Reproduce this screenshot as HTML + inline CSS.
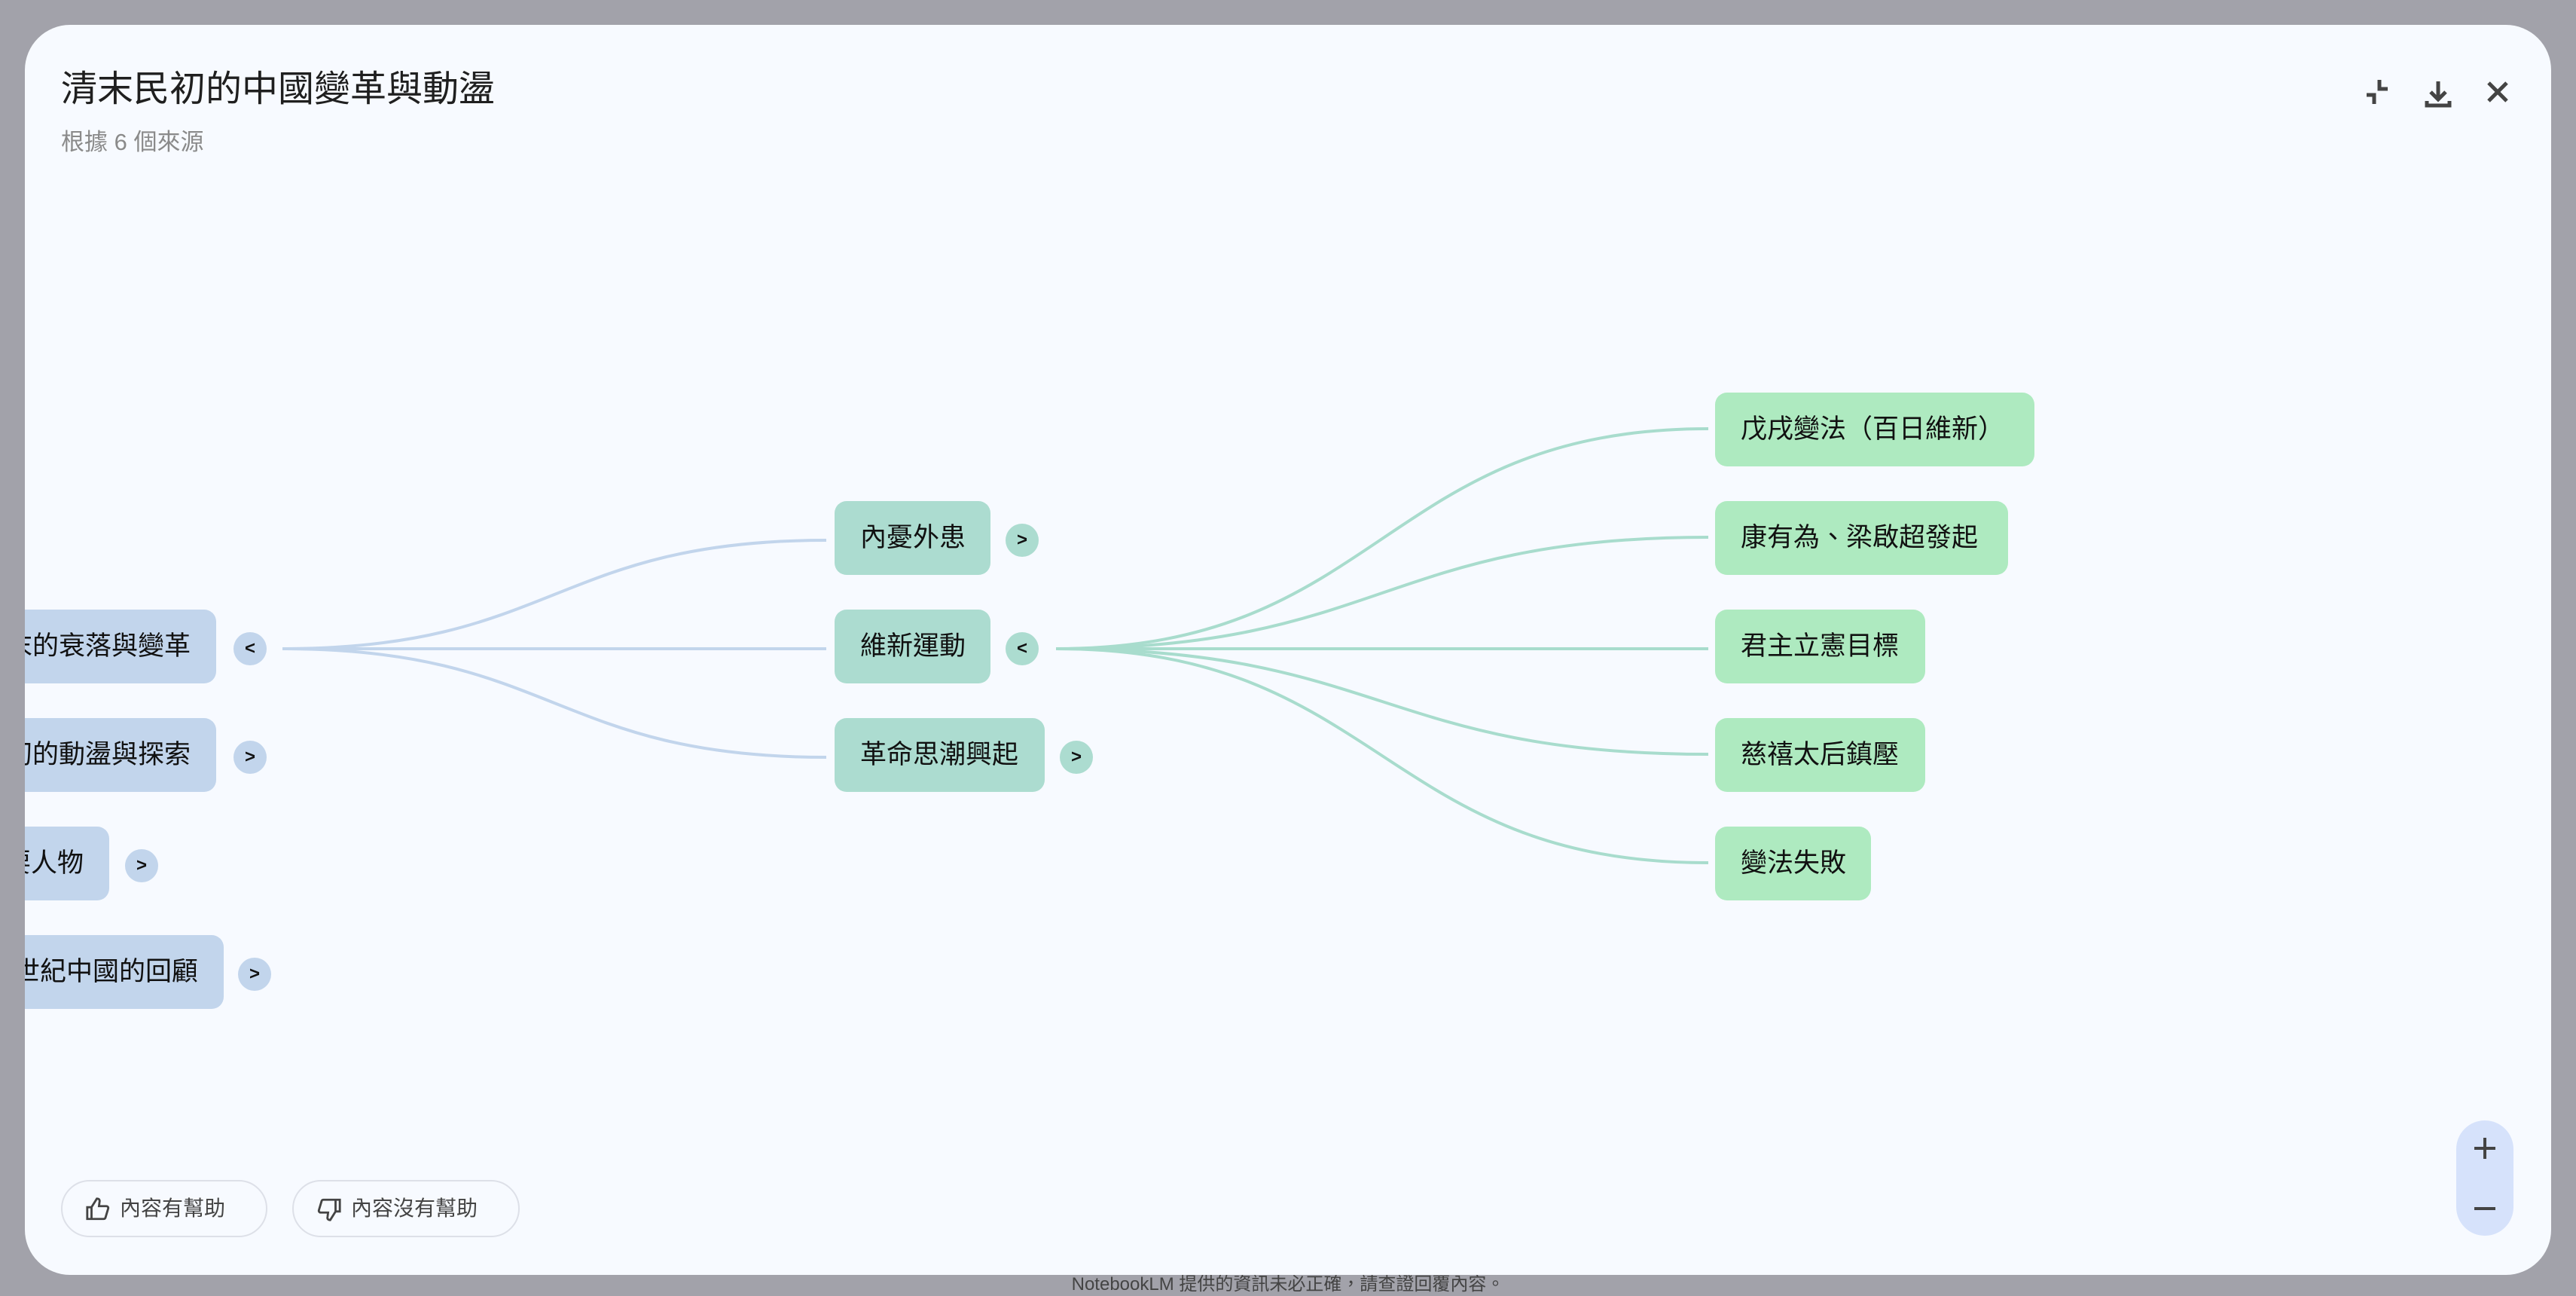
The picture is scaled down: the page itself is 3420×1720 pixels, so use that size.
<!DOCTYPE html>
<html><head><meta charset="utf-8"><style>
*{margin:0;padding:0;box-sizing:border-box}
body{width:3420px;height:1720px;background:#a2a2aa;position:relative;overflow:hidden;font-family:"Liberation Sans","Noto Sans CJK TC",sans-serif}
#modal{position:absolute;left:33px;top:33px;width:3354px;height:1659px;background:#f7faff;border-radius:60px;overflow:hidden}
.abs{position:absolute}
.node{position:absolute;height:98px;border-radius:16px;font-size:35px;color:#111;line-height:98px;white-space:nowrap;padding:0 34px}
.b{background:#c2d5ec}
.t{background:#acdcd0}
.g{background:#aeeac0}
.tog{position:absolute;width:44px;height:44px;border-radius:50%;font-size:24px;line-height:44px;text-align:center;color:#111;font-weight:bold}
.btn{position:absolute;height:76px;border:2px solid #dde0e8;border-radius:38px;font-size:28px;color:#444;line-height:72px;padding-left:76px}
</style></head><body>
<div class="abs" style="left:0;top:1690px;width:3420px;text-align:center;font-size:24px;color:#444;line-height:30px">NotebookLM 提供的資訊未必正確，請查證回覆內容。</div>
<div id="modal">
<div class="abs" style="left:48px;top:54px;font-size:48px;color:#1f1f1f;line-height:64px">清末民初的中國變革與動盪</div>
<div class="abs" style="left:48px;top:136px;font-size:31px;color:#8a8a8a;line-height:40px">根據 6 個來源</div>
<svg class="abs" style="left:3100px;top:70px" width="220" height="80" viewBox="3133 103 220 80">
<g stroke="#444" stroke-width="5" fill="none">
<path d="M3142 126h10v12M3159 106v12h11"/>
<path d="M3237 108v24M3227 122l10 10 10-10M3222 134v6h30v-6"/>
<path d="M3304 110l24 24M3328 110l-24 24"/>
</g></svg>
<svg class="abs" style="left:-33px;top:-33px" width="3420" height="1720">
<g fill="none" stroke="#c2d5ec" stroke-width="4">
<path d="M375 861C736 861 736 717 1097 717"/>
<path d="M375 861H1097"/>
<path d="M375 861C736 861 736 1005 1097 1005"/>
</g>
<g fill="none" stroke="#a8dccd" stroke-width="4">
<path d="M1402 861C1835 861 1835 569 2268 569"/>
<path d="M1402 861C1835 861 1835 713 2268 713"/>
<path d="M1402 861H2268"/>
<path d="M1402 861C1835 861 1835 1001 2268 1001"/>
<path d="M1402 861C1835 861 1835 1145 2268 1145"/>
</g></svg>
<div class="node b" style="right:3100px;top:776px;">清末的衰落與變革</div>
<div class="node b" style="right:3100px;top:920px;">民初的動盪與探索</div>
<div class="node b" style="right:3242px;top:1064px;">重要人物</div>
<div class="node b" style="right:3090px;top:1208px;">二十世紀中國的回顧</div>
<div class="tog b" style="left:277px;top:806px">&lt;</div>
<div class="tog b" style="left:277px;top:950px">&gt;</div>
<div class="tog b" style="left:133px;top:1094px">&gt;</div>
<div class="tog b" style="left:283px;top:1238px">&gt;</div>
<div class="node t" style="left:1075px;top:632px;width:207px">內憂外患</div>
<div class="node t" style="left:1075px;top:776px;width:207px">維新運動</div>
<div class="node t" style="left:1075px;top:920px;width:279px">革命思潮興起</div>
<div class="tog t" style="left:1302px;top:662px">&gt;</div>
<div class="tog t" style="left:1302px;top:806px">&lt;</div>
<div class="tog t" style="left:1374px;top:950px">&gt;</div>
<div class="node g" style="left:2244px;top:488px;width:424px">戊戌變法（百日維新）</div>
<div class="node g" style="left:2244px;top:632px;width:389px">康有為、梁啟超發起</div>
<div class="node g" style="left:2244px;top:776px;width:279px">君主立憲目標</div>
<div class="node g" style="left:2244px;top:920px;width:279px">慈禧太后鎮壓</div>
<div class="node g" style="left:2244px;top:1064px;width:207px">變法失敗</div>
<div class="btn" style="left:48px;top:1533px;width:274px">內容有幫助
<svg class="abs" style="left:30px;top:20px" width="34" height="34" viewBox="0 0 24 24"><path d="M2 10h4v11H2zM6 10l5-8c2 0 3 1 2.5 3L13 9h7c1 0 2 1 1.6 2.3L19 20c-.3.7-1 1-1.7 1H6" fill="none" stroke="#444" stroke-width="2"/></svg></div>
<div class="btn" style="left:355px;top:1533px;width:302px">內容沒有幫助
<svg class="abs" style="left:30px;top:20px" width="34" height="34" viewBox="0 0 24 24"><g transform="rotate(180 12 12)"><path d="M2 10h4v11H2zM6 10l5-8c2 0 3 1 2.5 3L13 9h7c1 0 2 1 1.6 2.3L19 20c-.3.7-1 1-1.7 1H6" fill="none" stroke="#444" stroke-width="2"/></g></svg></div>
<div class="abs" style="left:3228px;top:1454px;width:76px;height:153px;border-radius:38px;background:#d6e2fb"></div>
<div class="abs" style="left:3252px;top:1489px;width:28px;height:4px;background:#444"></div>
<div class="abs" style="left:3264px;top:1477px;width:4px;height:28px;background:#444"></div>
<div class="abs" style="left:3252px;top:1569px;width:28px;height:4px;background:#444"></div>
</div>
</body></html>
